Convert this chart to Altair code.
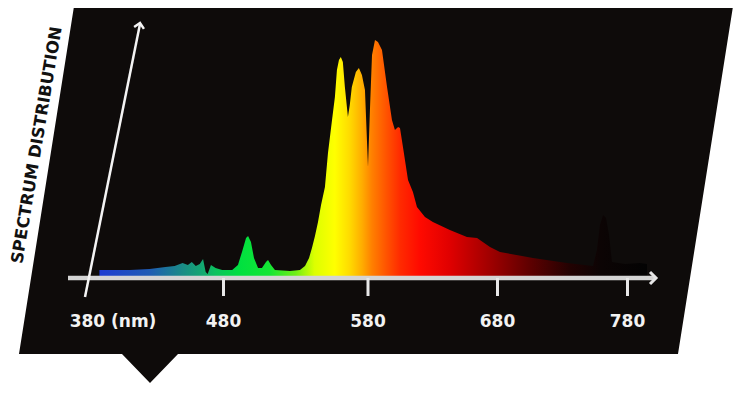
import numpy as np
import pandas as pd
import altair as alt

# ---- spectrum data (wavelength in nm, relative intensity, main peak = 100) ----
wavelength = [386, 409, 424, 436, 443, 449, 453, 456, 459, 462, 464.5, 466.5, 468, 470.5,
              474, 479, 486, 490, 492.8, 495.6, 497, 499, 501.1, 503.9, 506.6, 509.4,
              510.8, 512.9, 515.6, 526, 532.9, 536.4, 539.2, 541.2, 543.3, 545.4, 547.5,
              550.2, 552.3, 555.1, 557.1, 558.5, 559.9, 561.2, 562.6, 564, 566.1, 567.4,
              568.8, 571.6, 573.7, 575.8, 577.9, 580, 581.5, 583.1, 585.4, 587.7, 590.8,
              594.7, 598.5, 600.8, 603.2, 604.7, 607, 610.9, 614.7, 617.8, 624, 630.1,
              643.2, 656.4, 664.2, 674.2, 681.9, 707.3, 733.5, 753.5, 756.5, 758.8, 761.2,
              763.5, 765.8, 768.1, 778.1, 789.6, 795]
intensity = [2.5, 2.5, 3.0, 3.8, 4.2, 5.5, 4.7, 5.9, 4.2, 5.1, 7.2, 1.7, 0.8, 4.7,
             3.4, 2.5, 2.5, 4.7, 10.2, 16.1, 16.9, 14.4, 7.6, 3.4, 3.4, 5.9,
             6.8, 4.7, 2.5, 2.1, 2.5, 4.2, 7.6, 11.9, 16.9, 22.9, 30.1,
             37.7, 52.1, 66.1, 75.8, 87.3, 91.5, 92.8, 90.7, 80.1, 67.4, 72.5,
             80.1, 86.4, 88.1, 85.2, 78.8, 46.2, 70.3, 93.6, 100, 99.2, 95.8,
             80.1, 66.1, 61.9, 63.1, 62.7, 54.7, 40.7, 35.6, 29.2, 25.0, 22.9,
             19.5, 16.5, 16.1, 12.3, 10.2, 7.6, 5.5, 4.2, 11.0, 21.6, 25.8,
             24.6, 17.4, 5.9, 5.1, 5.5, 5.1]

tick_values = [480, 580, 680, 780]
label_values = [380, 480, 580, 680, 780]
label_text = ["380 (nm)", "480", "580", "680", "780"]
title_text = "SPECTRUM DISTRIBUTION"

# colour of the light at each wavelength
stop_nm = [386, 424, 449, 462, 474, 491, 512, 530, 543, 557, 567, 576, 583, 594,
           605, 620, 643, 674, 705, 736, 759, 795]
stop_colors = ["#1e3cd2", "#1f5cb4", "#1a8c86", "#14a474", "#0cc25e", "#00e040",
               "#14e634", "#70ee14", "#dcff00", "#ffff00", "#ffdc00", "#ffac00",
               "#ff8000", "#ff5400", "#ff2a00", "#ff0a00", "#e00000", "#a00000",
               "#5e0000", "#220202", "#0c0404", "#030303"]

# ---- scales (piecewise x, as drawn in the original) ----
X_DOMAIN = [380, 480, 580, 680, 780]
X_RANGE = [83.5, 215.5, 360, 489.5, 619.5]
xs = alt.Scale(domain=X_DOMAIN, range=X_RANGE, nice=False, zero=False)
ys = alt.Scale(domain=[0, 100], range=[268, 32], nice=False, zero=False)


def xpix(v):
    d, r = X_DOMAIN, X_RANGE
    if v <= d[1]:
        return r[0] + (v - d[0]) * (r[1] - r[0]) / (d[1] - d[0])
    if v >= d[-2]:
        return r[-2] + (v - d[-2]) * (r[-1] - r[-2]) / (d[-1] - d[-2])
    return float(np.interp(v, d, r))


p0, p1 = xpix(min(wavelength)), xpix(max(wavelength))
stops = [alt.GradientStop(offset=round((xpix(n) - p0) / (p1 - p0), 4), color=c)
         for n, c in zip(stop_nm, stop_colors)]
grad = alt.Gradient(gradient="linear", stops=stops, x1=0, x2=1, y1=0, y2=0)

spec_df = pd.DataFrame({"wl": wavelength, "val": intensity})
tick_df = pd.DataFrame({"wl": tick_values})
lab_df = pd.DataFrame({"wl": label_values, "txt": label_text})
one = pd.DataFrame({"k": [0]})

BG = "#0e0b0a"

# dark slanted panel with a pointer notch
panel_path = "M67,-8L726,-8L670,346L170,346L142,375L114,346L11,346Z"
panel = alt.Chart(one).mark_point(shape=panel_path, size=4, filled=True, fill=BG,
                                  opacity=1, strokeWidth=0).encode(
    x=alt.value(0), y=alt.value(0))

spectrum = alt.Chart(spec_df).mark_area(color=grad, opacity=1).encode(
    x=alt.X("wl:Q", scale=xs, axis=None),
    y=alt.Y("val:Q", scale=ys, axis=None),
)

axis_line = alt.Chart(one).mark_rule(color="#d4d4d4", strokeWidth=4.5).encode(
    x=alt.value(60), x2=alt.value(646), y=alt.value(270))

x_arrow = alt.Chart(one).mark_point(shape="M-1,1L0,0L1,1", size=144, filled=False,
                                    stroke="#e6e6e6", strokeWidth=3, opacity=1,
                                    angle=90).encode(
    x=alt.value(648), y=alt.value(270))

ticks = alt.Chart(tick_df).mark_rule(color="#e8e8e8", strokeWidth=3).encode(
    x=alt.X("wl:Q", scale=xs, axis=None),
    y=alt.value(270), y2=alt.value(288))

y_line = alt.Chart(one).mark_rule(color="#f4f4f4", strokeWidth=2.5).encode(
    x=alt.value(77), y=alt.value(289), x2=alt.value(132), y2=alt.value(16))

y_arrow = alt.Chart(one).mark_point(shape="M-1,1L0,0L1,1", size=100, filled=False,
                                    stroke="#f4f4f4", strokeWidth=2.5, opacity=1,
                                    angle=11).encode(
    x=alt.value(132), y=alt.value(15))

label_first = alt.Chart(lab_df.iloc[:1]).mark_text(
    font="DejaVu Sans", fontWeight="bold", fontSize=17, color="#f2f2f2",
    align="center", baseline="middle", dx=21.5).encode(
    x=alt.X("wl:Q", scale=xs, axis=None), y=alt.value(314), text="txt:N")

label_rest = alt.Chart(lab_df.iloc[1:]).mark_text(
    font="DejaVu Sans", fontWeight="bold", fontSize=17, color="#f2f2f2",
    align="center", baseline="middle").encode(
    x=alt.X("wl:Q", scale=xs, axis=None), y=alt.value(314), text="txt:N")

title = alt.Chart(pd.DataFrame({"t": [title_text]})).mark_text(
    font="DejaVu Sans", fontWeight="bold", fontSize=16.5, color="#111111",
    align="center", baseline="middle", angle=279.5).encode(
    x=alt.value(29), y=alt.value(137), text="t:N")

chart = alt.layer(panel, spectrum, axis_line, x_arrow, ticks, y_line, y_arrow,
                  label_first, label_rest, title).properties(
    width=734, height=387,
    autosize=alt.AutoSizeParams(type="none"),
    padding=0,
    background="white",
).configure_view(stroke=None)

chart.save("out.html", embed_options={"renderer": "svg", "actions": False})
